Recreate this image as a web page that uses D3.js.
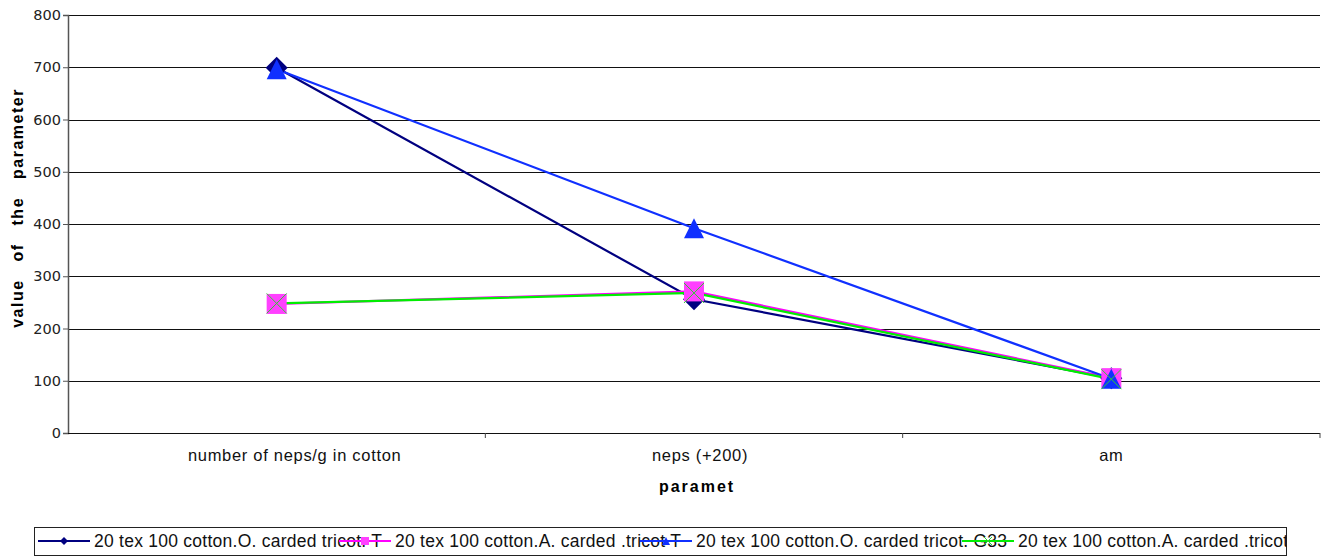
<!DOCTYPE html>
<html>
<head>
<meta charset="utf-8">
<script src="https://cdn.jsdelivr.net/npm/d3@7"></script>
<style>
  html, body { margin: 0; padding: 0; background: #fff; }
  svg { display: block; }
</style>
</head>
<body>
<svg id="chart" width="1325" height="556"></svg>
<script>
// Parameters measured for each yarn variant
const categories = ["number of neps/g in cotton", "neps (+200)", "am"];
const yTicks = [0, 100, 200, 300, 400, 500, 600, 700, 800];

const seriesNames = [
  "20 tex 100 cotton.O. carded tricot. T",
  "20 tex 100 cotton.A. carded .tricot T",
  "20 tex 100 cotton.O. carded tricot. G33",
  "20 tex 100 cotton.A. carded .tricot G33"
];
const oCardedT   = [699, 256, 105];
const aCardedT   = [247, 271, 105];
const oCardedG33 = [696, 392, 104];
const aCardedG33 = [248, 268, 103];

const seriesValues = [oCardedT, aCardedT, oCardedG33, aCardedG33];
const seriesColors = ["#000080", "#ff00ff", "#1030ff", "#00ee00"];
const seriesMarkers = ["diamond", "square", "triangle", "cross"];

const svg = d3.select("#chart");
const plot = { left: 68, right: 1320, top: 15, bottom: 433 };

const x = d3.scaleBand().domain(categories).range([plot.left, plot.right]).padding(0);
const y = d3.scaleLinear().domain([0, 800]).range([plot.bottom, plot.top]);
const cx = c => x(c) + x.bandwidth() / 2;

// Horizontal gridlines
svg.append("g")
  .selectAll("line")
  .data(yTicks.filter(t => t > 0))
  .join("line")
  .attr("x1", plot.left).attr("x2", plot.right)
  .attr("y1", d => Math.round(y(d)) + 0.5).attr("y2", d => Math.round(y(d)) + 0.5)
  .attr("stroke", "#111").attr("stroke-width", 1);

// Y axis
const yAxis = svg.append("g")
  .attr("transform", `translate(${plot.left},0)`)
  .call(d3.axisLeft(y).tickValues(yTicks).tickSize(5).tickPadding(2).tickFormat(d3.format("d")));
yAxis.select(".domain").attr("stroke", "#555").attr("stroke-width", 1.5);
yAxis.selectAll(".tick line").attr("stroke", "#555");
yAxis.selectAll(".tick text")
  .attr("font-family", "DejaVu Sans, sans-serif")
  .attr("font-size", 14.5)
  .attr("fill", "#222");

// X axis with ticks between categories
const xAxisG = svg.append("g").attr("transform", `translate(0,${plot.bottom})`);
xAxisG.append("line")
  .attr("x1", plot.left).attr("x2", plot.right)
  .attr("y1", 0.5).attr("y2", 0.5)
  .attr("stroke", "#111").attr("stroke-width", 1.2);
const bounds = categories.map(c => x(c)).concat([plot.right]);
xAxisG.selectAll("line.tk")
  .data(bounds.slice(1))
  .join("line").attr("class", "tk")
  .attr("x1", d => d).attr("x2", d => d)
  .attr("y1", 0).attr("y2", 5)
  .attr("stroke", "#444");
const labelShift = [18, 6, 0];
xAxisG.selectAll("text")
  .data(categories)
  .join("text")
  .attr("x", (d, i) => cx(d) + labelShift[i])
  .attr("y", 28)
  .attr("text-anchor", "middle")
  .attr("font-family", "Liberation Sans, Arial, sans-serif")
  .attr("font-size", 16.5)
  .attr("letter-spacing", 0.7)
  .attr("fill", "#111")
  .text(d => d);

// Axis titles
svg.append("text")
  .attr("x", 697).attr("y", 492)
  .attr("text-anchor", "middle")
  .attr("font-family", "Liberation Sans, Arial, sans-serif")
  .attr("font-weight", "bold")
  .attr("font-size", 16)
  .attr("letter-spacing", 2)
  .text("paramet");

svg.append("text")
  .attr("transform", "translate(23,208) rotate(-90)")
  .attr("text-anchor", "middle")
  .attr("font-family", "Liberation Sans, Arial, sans-serif")
  .attr("font-weight", "bold")
  .attr("font-size", 16)
  .attr("letter-spacing", 1.5)
  .attr("word-spacing", 12)
  .text("value of the parameter");

// Marker shapes
function drawMarker(g, type, color, px, py, s) {
  if (type === "diamond") {
    g.append("path").attr("d", `M${px},${py - s}L${px + s},${py}L${px},${py + s}L${px - s},${py}Z`)
      .attr("fill", color);
  } else if (type === "square") {
    g.append("rect").attr("x", px - s).attr("y", py - s).attr("width", 2 * s).attr("height", 2 * s)
      .attr("fill", "#ff40ff");
  } else if (type === "triangle") {
    g.append("path").attr("d", `M${px},${py - s}L${px + s},${py + s}L${px - s},${py + s}Z`)
      .attr("fill", color);
  } else if (type === "cross") {
    g.append("path").attr("d", `M${px - s},${py - s}L${px + s},${py + s}M${px + s},${py - s}L${px - s},${py + s}`)
      .attr("stroke", "#33cc33").attr("stroke-width", 1).attr("fill", "none");
  }
}
const markerSize = [11, 10, 10, 10];

// Series lines
const line = d3.line().x((d, i) => cx(categories[i])).y(d => y(d));
const linesG = svg.append("g");
seriesValues.forEach((vals, s) => {
  linesG.append("path")
    .attr("d", line(vals))
    .attr("fill", "none")
    .attr("stroke", seriesColors[s])
    .attr("stroke-width", 2.2);
});

// Series markers on top of all lines
const marksG = svg.append("g");
seriesValues.forEach((vals, s) => {
  vals.forEach((v, i) => drawMarker(marksG, seriesMarkers[s], seriesColors[s], cx(categories[i]), y(v), markerSize[s]));
});

// Legend
const legend = svg.append("g");
const lgBox = { x: 34.5, y: 527.5, w: 1252, h: 28 };
svg.append("clipPath").attr("id", "lgclip")
  .append("rect").attr("x", lgBox.x).attr("y", lgBox.y).attr("width", lgBox.w).attr("height", lgBox.h);
legend.append("rect")
  .attr("x", lgBox.x).attr("y", lgBox.y).attr("width", lgBox.w).attr("height", lgBox.h)
  .attr("fill", "#fff").attr("stroke", "#222").attr("stroke-width", 1);
const entryX = [38, 339, 640, 962];
const lgInner = legend.append("g").attr("clip-path", "url(#lgclip)");
const lgMid = 541;
function legendSample(s) {
  const x0 = entryX[s];
  lgInner.append("line")
    .attr("x1", x0).attr("x2", x0 + 52)
    .attr("y1", lgMid).attr("y2", lgMid)
    .attr("stroke", seriesColors[s]).attr("stroke-width", 2.2);
  drawMarker(lgInner, seriesMarkers[s], seriesColors[s], x0 + 26, lgMid, 4);
}
seriesNames.forEach((name, s) => {
  lgInner.append("text")
    .attr("x", entryX[s] + 56).attr("y", lgMid + 6)
    .attr("font-family", "Liberation Sans, Arial, sans-serif")
    .attr("font-size", 17.5)
    .attr("letter-spacing", 0.25)
    .attr("fill", "#111")
    .text(name);
});
// line samples sit on top of any label that runs into them
seriesNames.forEach((name, s) => legendSample(s));
</script>
</body>
</html>
